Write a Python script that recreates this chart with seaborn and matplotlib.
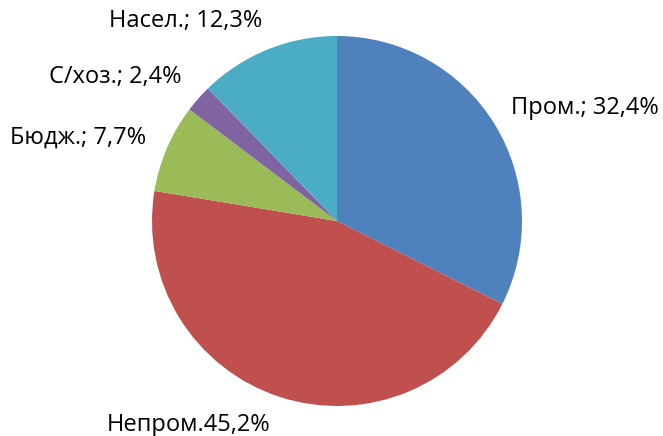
import matplotlib
matplotlib.use("Agg")
import matplotlib.pyplot as plt
import seaborn as sns

# Data
labels = ["Пром.; 32,4%", "Непром.45,2%", "Бюдж.; 7,7%", "С/хоз.; 2,4%", "Насел.; 12,3%"]
shares = [32.4, 45.2, 7.7, 2.4, 12.3]
colors = ["#4F81BD", "#C0504D", "#9BBB59", "#8064A2", "#4BACC6"]

# Label anchor points (in pie radius units)
label_x = [1.34, -0.80, -1.40, -1.20, -0.82]
label_y = [0.61, -1.10, 0.45, 0.78, 1.08]

sns.set_theme(style="white")
plt.rcParams["font.family"] = ["Open Sans", "DejaVu Sans"]

fig = plt.figure(figsize=(6.63, 4.36), dpi=100)
ax = fig.add_axes([152 / 663, 30 / 436, 370 / 663, 370 / 436])

palette = sns.color_palette(colors)
ax.pie(shares, colors=palette, startangle=90, counterclock=False,
       radius=1, wedgeprops=dict(linewidth=0))

for lab, x, y in zip(labels, label_x, label_y):
    ax.text(x, y, lab, ha="center", va="center", fontsize=17,
            color="#000000", clip_on=False)

ax.set_xlim(-1, 1)
ax.set_ylim(-1, 1)
ax.set_aspect("equal")
ax.axis("off")

fig.savefig("out.png", dpi=100)
plt.close(fig)
